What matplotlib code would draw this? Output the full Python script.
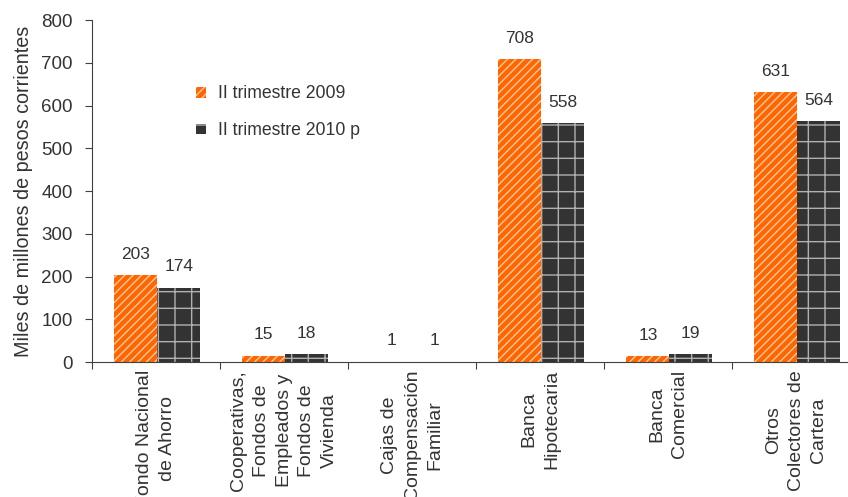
import matplotlib
matplotlib.use("Agg")
import matplotlib.pyplot as plt
import numpy as np

categories = ["Fondo Nacional\nde Ahorro",
              "Cooperativas,\nFondos de\nEmpleados y\nFondos de\nVivienda",
              "Cajas de\nCompensación\nFamiliar",
              "Banca\nHipotecaria",
              "Banca\nComercial",
              "Otros\nColectores de\nCartera"]
series_names = ["II trimestre 2009", "II trimestre 2010 p"]
values_2009 = [203, 15, 1, 708, 13, 631]
values_2010 = [174, 18, 1, 558, 19, 564]
yticks = [0, 100, 200, 300, 400, 500, 600, 700, 800]

plt.rcParams['font.family'] = ['Liberation Sans', 'DejaVu Sans']
plt.rcParams['hatch.linewidth'] = 1.0
txt = '#333333'

fig = plt.figure(figsize=(8.48, 4.97), dpi=100)
ax = fig.add_axes([0.1085, 0.2716, 0.9057, 0.6881])

x = np.arange(len(categories)) + 0.5
w = 0.335
b1 = ax.bar(x - w / 2 + 0.01, values_2009, w, color='#FF6600', edgecolor='#FFC9A0',
            linewidth=0, hatch='////', label=series_names[0])
b2 = ax.bar(x + w / 2 + 0.01, values_2010, w, color='#333333', edgecolor='#B0B0B0',
            linewidth=0, hatch='+', label=series_names[1])

for bars, vals in ((b1, values_2009), (b2, values_2010)):
    for r, v in zip(bars, vals):
        ax.annotate(f"{v}", (r.get_x() + r.get_width() / 2, v), xytext=(0, 15),
                    textcoords='offset points', ha='center', va='center',
                    fontsize=12.5, color=txt)

ax.set_xlim(0, 6)
ax.set_ylim(0, 800)
ax.set_yticks(yticks)
ax.set_yticklabels([str(t) for t in yticks], fontsize=13.5, color=txt)
ax.set_xticks(np.arange(0, 7))
ax.set_xticklabels([])
ax.tick_params(axis='both', direction='out', length=5, color='#404040', width=0.8)
ax.tick_params(axis='y', pad=9)

for xi, lab in zip(x, categories):
    ax.text(xi, -0.023, lab, transform=ax.get_xaxis_transform(), rotation=90,
            ha='center', va='top', multialignment='center', fontsize=14,
            color=txt, linespacing=1.45)

for s in ('top', 'right'):
    ax.spines[s].set_visible(False)
for s in ('left', 'bottom'):
    ax.spines[s].set_color('#404040')
    ax.spines[s].set_linewidth(0.8)

ax.set_ylabel("Miles de millones de pesos corrientes", fontsize=14.2, color=txt, labelpad=6)

leg = fig.legend(handles=[b1, b2], labels=series_names, loc='upper left',
                 bbox_to_anchor=(0.231, 0.828), frameon=False, fontsize=12.7,
                 handlelength=0.57, handleheight=0.57, handletextpad=0.7,
                 labelspacing=1.12, borderpad=0, borderaxespad=0)
for t in leg.get_texts():
    t.set_color(txt)

fig.savefig("out.png", dpi=100)
